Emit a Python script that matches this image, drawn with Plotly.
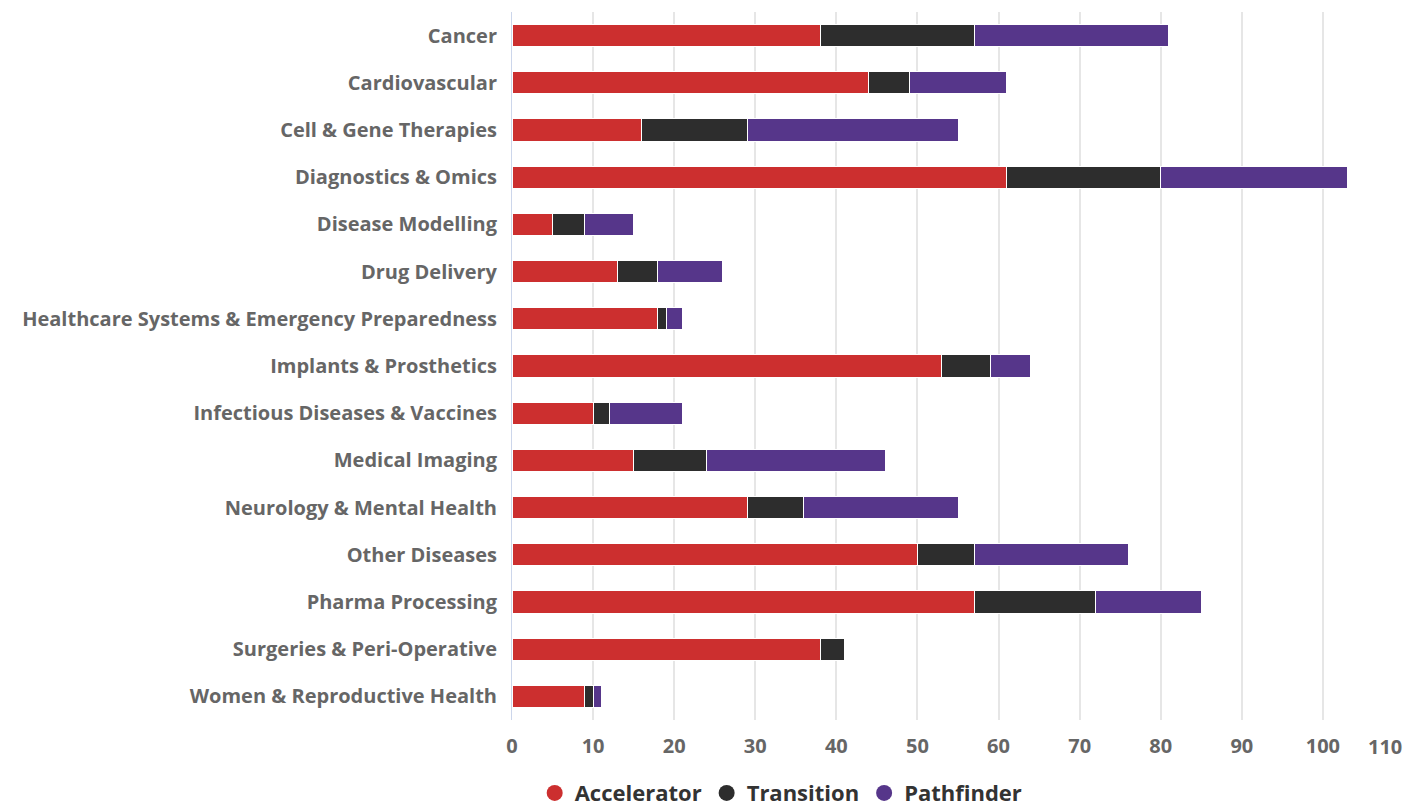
import plotly.graph_objects as go

categories = ["Cancer", "Cardiovascular", "Cell & Gene Therapies", "Diagnostics & Omics",
              "Disease Modelling", "Drug Delivery", "Healthcare Systems & Emergency Preparedness",
              "Implants & Prosthetics", "Infectious Diseases & Vaccines", "Medical Imaging",
              "Neurology & Mental Health", "Other Diseases", "Pharma Processing",
              "Surgeries & Peri-Operative", "Women & Reproductive Health"]
accelerator = [38, 44, 16, 61, 5, 13, 18, 53, 10, 15, 29, 50, 57, 38, 9]
transition = [19, 5, 13, 19, 4, 5, 1, 6, 2, 9, 7, 7, 15, 3, 1]
pathfinder = [24, 12, 26, 23, 6, 8, 2, 5, 9, 22, 19, 19, 13, 0, 1]
series_names = ["Accelerator", "Transition", "Pathfinder"]
colors = ["#CC2F2F", "#2D2D2D", "#56368A"]
x_ticks = [0, 10, 20, 30, 40, 50, 60, 70, 80, 90, 100]

FONT = "Open Sans"
fig = go.Figure()
for name, vals, col in zip(series_names, [accelerator, transition, pathfinder], colors):
    fig.add_trace(go.Bar(y=categories, x=vals, orientation="h", name=name,
                         marker=dict(color=col, line=dict(color="white", width=1)),
                         showlegend=False))
for name, col in zip(series_names, colors):
    fig.add_trace(go.Scatter(x=[None], y=[None], mode="markers", name=name,
                             marker=dict(color=col, size=20, symbol="circle")))

fig.update_layout(
    barmode="stack", bargap=0.53,
    width=1405, height=806,
    margin=dict(l=512, r=1, t=12, b=86),
    paper_bgcolor="white", plot_bgcolor="white",
    legend=dict(orientation="h", xref="container", yref="container",
                x=0.556, xanchor="center", y=0.016, yanchor="middle",
                traceorder="normal",
                font=dict(family=FONT, size=22, color="#333333", weight="bold"),
                itemsizing="trace", itemwidth=30, tracegroupgap=0),
    xaxis=dict(range=[0, 110], tickvals=x_ticks, showgrid=True, gridcolor="#E6E6E6",
               gridwidth=2, zeroline=False, showline=False,
               tickfont=dict(family=FONT, size=20, color="#666666", weight="bold"),
               ticklabelstandoff=12),
    yaxis=dict(autorange="reversed", showline=True, linecolor="#CCD6EB", linewidth=1,
               showgrid=False, ticks="",
               tickfont=dict(family=FONT, size=20, color="#666666", weight="bold"),
               ticklabelstandoff=10),
)
fig.add_annotation(x=1, xref="paper", y=0, yref="paper", yshift=-26, text="110",
                   showarrow=False, xanchor="right", yanchor="middle",
                   font=dict(family=FONT, size=20, color="#666666", weight="bold"))
fig.write_html("out.html", config={"displayModeBar": False},
               post_script="document.body.style.margin='0px';")
